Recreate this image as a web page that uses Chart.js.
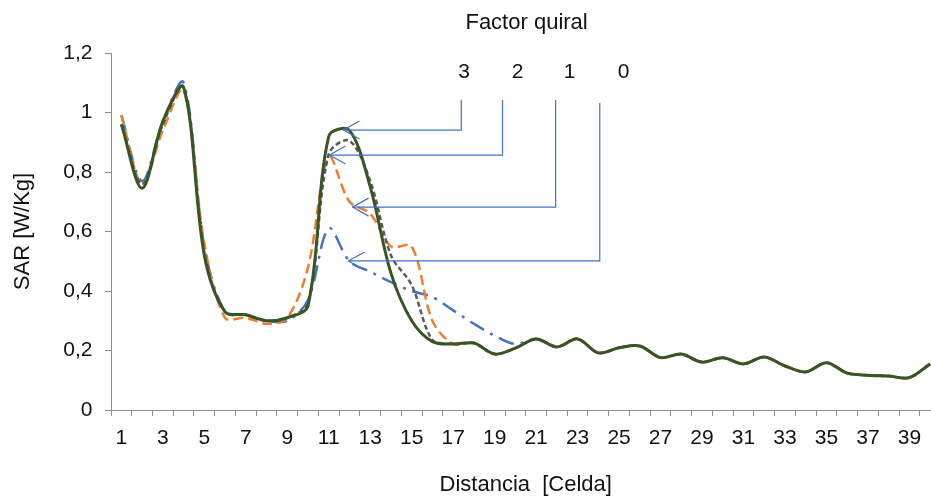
<!DOCTYPE html>
<html>
<head>
<meta charset="utf-8">
<style>
html,body{margin:0;padding:0;overflow:hidden;background:#fff;width:931px;height:497px}
#wrap{position:absolute;left:0;top:0;width:946px;height:497px}
</style>
<script src="https://cdn.jsdelivr.net/npm/chart.js@4.4.0/dist/chart.umd.min.js"></script>
</head>
<body>
<div id="wrap"><canvas id="c" width="946" height="497"></canvas></div>
<script>
// ---- data ----
const categories = ['1','2','3','4','5','6','7','8','9','10','11','12','13','14','15','16','17','18','19','20',
                    '21','22','23','24','25','26','27','28','29','30','31','32','33','34','35','36','37','38','39','40'];
const factor3 = [0.96,0.745,0.97,1.085,0.52,0.33,0.32,0.30,0.31,0.35,0.92,0.94,0.75,0.46,0.30,0.23,0.222,0.225,0.188,0.208,
                 0.239,0.212,0.239,0.192,0.209,0.215,0.176,0.188,0.161,0.176,0.155,0.178,0.148,0.128,0.159,0.124,0.117,0.114,0.109,0.155];
const factor2 = [0.96,0.76,0.96,1.085,0.53,0.33,0.32,0.30,0.31,0.36,0.86,0.905,0.77,0.52,0.42,0.235,0.222,0.225,0.188,0.208,
                 0.239,0.212,0.239,0.192,0.209,0.215,0.176,0.188,0.161,0.176,0.155,0.178,0.148,0.128,0.159,0.124,0.117,0.114,0.109,0.155];
const factor1 = [0.99,0.76,0.94,1.075,0.56,0.31,0.31,0.29,0.31,0.48,0.85,0.70,0.66,0.55,0.55,0.30,0.222,0.225,0.188,0.208,
                 0.239,0.212,0.239,0.192,0.209,0.215,0.176,0.188,0.161,0.176,0.155,0.178,0.148,0.128,0.159,0.124,0.117,0.114,0.109,0.155];
const factor0 = [0.99,0.77,0.97,1.10,0.55,0.33,0.32,0.30,0.30,0.37,0.61,0.50,0.465,0.43,0.40,0.38,0.335,0.29,0.25,0.222,
                 0.239,0.212,0.239,0.192,0.209,0.215,0.176,0.188,0.161,0.176,0.155,0.178,0.148,0.128,0.159,0.124,0.117,0.114,0.109,0.155];
const yTickLabels = ['0','0,2','0,4','0,6','0,8','1','1,2'];
const seriesNames = ['Factor quiral 3','Factor quiral 2','Factor quiral 1','Factor quiral 0'];
const calloutLabels = ['3','2','1','0'];
const calloutTitle = 'Factor quiral';

// ---- callout geometry (in axis units: category number / SAR value) ----
const callout = {
  titleX: 20.54, titleY: 1.30,
  labelX: [17.53, 20.11, 22.62, 25.22], labelY: 1.134,
  stemX: [17.39, 19.38, 21.94, 24.07], stemTop: [1.042, 1.042, 1.042, 1.032],
  tipX: [11.71, 11.04, 12.15, 11.95], tipY: [0.941, 0.857, 0.682, 0.501]
};

const FONT = '"Liberation Sans", Arial, sans-serif';
const axisColor = '#8c8c8c';
const textColor = '#111';

const calloutPlugin = {
  id: 'callouts',
  afterDatasetsDraw(chart) {
    const {ctx, scales: {x, y}} = chart;
    const X = c => {
      const i = c - 1, i0 = Math.floor(i);
      const p0 = x.getPixelForValue(i0), p1 = x.getPixelForValue(i0 + 1);
      return p0 + (i - i0) * (p1 - p0);
    };
    const Y = v => y.getPixelForValue(v);
    ctx.save();
    ctx.fillStyle = textColor;
    ctx.textAlign = 'center';
    ctx.textBaseline = 'middle';
    ctx.font = '22px ' + FONT;
    ctx.fillText(calloutTitle, X(callout.titleX), Y(callout.titleY));
    ctx.font = '21px ' + FONT;
    calloutLabels.forEach((t, k) => ctx.fillText(t, X(callout.labelX[k]), Y(callout.labelY)));
    ctx.strokeStyle = '#4472C4';
    ctx.lineWidth = 1.2;
    for (let k = 0; k < calloutLabels.length; k++) {
      const sx = X(callout.stemX[k]), st = Y(callout.stemTop[k]);
      const tx = X(callout.tipX[k]), ty = Y(callout.tipY[k]);
      ctx.beginPath();
      ctx.moveTo(sx, st);
      ctx.lineTo(sx, ty);
      ctx.lineTo(tx, ty);
      ctx.stroke();
      ctx.beginPath();
      ctx.moveTo(tx + 16, ty - 9);
      ctx.lineTo(tx, ty);
      ctx.lineTo(tx + 16, ty + 9);
      ctx.stroke();
    }
    ctx.restore();
  }
};

new Chart(document.getElementById('c'), {
  type: 'line',
  data: {
    labels: categories,
    datasets: [
      {label: seriesNames[0], data: factor3, borderColor: '#375623', borderWidth: 3, order: 0},
      {label: seriesNames[1], data: factor2, borderColor: '#595959', borderWidth: 2.5, borderDash: [5, 3], order: 1},
      {label: seriesNames[2], data: factor1, borderColor: '#ED7D31', borderWidth: 2.5, borderDash: [10, 5], order: 2},
      {label: seriesNames[3], data: factor0, borderColor: '#4472C4', borderWidth: 2.5, borderDash: [16, 7, 3, 7], order: 3}
    ]
  },
  options: {
    responsive: false,
    animation: false,
    devicePixelRatio: 1,
    layout: {padding: {left: 0, right: 5.5, top: 53, bottom: 0}},
    elements: {point: {radius: 0, hoverRadius: 0}, line: {tension: 0.33, fill: false}},
    plugins: {legend: {display: false}, tooltip: {enabled: false}},
    scales: {
      x: {
        type: 'category',
        offset: true,
        grid: {offset: true, drawOnChartArea: false, drawTicks: true, tickLength: 6, color: axisColor, lineWidth: 1},
        border: {color: axisColor, width: 1},
        ticks: {
          autoSkip: false, maxRotation: 0, minRotation: 0, padding: 10,
          font: {family: FONT, size: 21}, color: textColor,
          callback: (v, i) => (i % 2 === 0 ? categories[i] : '')
        },
        title: {display: true, text: 'Distancia  [Celda]', color: textColor,
                font: {family: FONT, size: 22, lineHeight: 1.1}, padding: {top: 0, bottom: 0}},
        afterFit: s => { s.height = 87; }
      },
      y: {
        min: 0, max: 1.2,
        grid: {drawOnChartArea: false, drawTicks: true, tickLength: 6, color: axisColor, lineWidth: 1},
        border: {color: axisColor, width: 1},
        ticks: {
          stepSize: 0.2, padding: 12.5,
          font: {family: FONT, size: 21}, color: textColor,
          callback: (v, i) => yTickLabels[i]
        },
        title: {display: true, text: 'SAR [W/Kg]', color: textColor,
                font: {family: FONT, size: 22}, padding: {top: 10, bottom: 0}},
        afterFit: s => { s.width = 111; }
      }
    }
  },
  plugins: [calloutPlugin]
});
</script>
</body>
</html>
